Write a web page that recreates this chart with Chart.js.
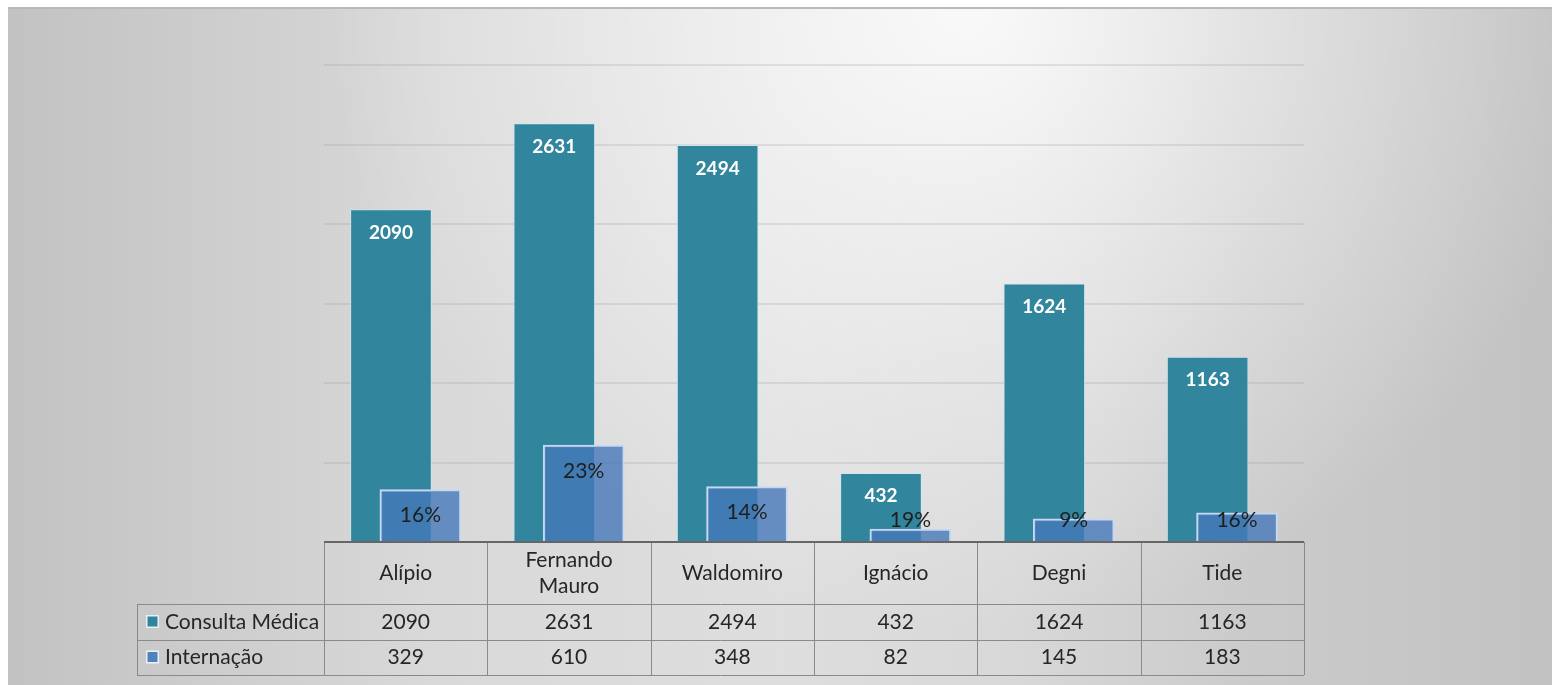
<!DOCTYPE html>
<html>
<head>
<meta charset="utf-8">
<script src="https://cdn.jsdelivr.net/npm/chart.js@4.4.1/dist/chart.umd.min.js"></script>
<style>
html, body { margin: 0; padding: 0; background: #ffffff; }
#frame {
	position: absolute; left: 8px; top: 7px; width: 1544px; height: 678px;
	border-top: 2px solid #b9b9b9;
	background:
		radial-gradient(ellipse 640px 620px at 960px 0px, rgba(255,255,255,0.85) 0%, rgba(255,255,255,0.45) 45%, rgba(255,255,255,0) 100%),
		linear-gradient(to right, #c2c2c2 0%, #cccccc 12%, #d9d9d9 28%, #dedede 50%, #d8d8d8 65%, #cbcbcb 80%, #c2c2c2 100%);
}
#chart { position: absolute; left: 0; top: 0; }
</style>
</head>
<body>
<div id="frame"></div>
<canvas id="chart" width="1552" height="685"></canvas>
<script>
// values
const categories = ['Alípio', ['Fernando', 'Mauro'], 'Waldomiro', 'Ignácio', 'Degni', 'Tide'];
const consultaMedica = [2090, 2631, 2494, 432, 1624, 1163];
const internacao = [329, 610, 348, 82, 145, 183];
const seriesNames = ['Consulta Médica', 'Internação'];
const yMax = 3000;
const yStep = 500;

const tealColor = '#31859c';
const blueColor = 'rgba(70,120,185,0.8)';
const textFont = 'Lato, "Open Sans", sans-serif';
// the two series overlap, each pushed this far (in categories) off the centre
const barShift = 0.09;
const n = categories.length;

// bar value labels: numbers on the teal bars, share of consultas on the blue ones
const barLabels = {
	id: 'barLabels',
	afterDatasetsDraw(chart) {
		let ctx = chart.ctx;
		let base = chart.scales.y.getPixelForValue(0);
		ctx.save();
		ctx.textAlign = 'center';
		ctx.textBaseline = 'middle';

		let metaC = chart.getDatasetMeta(0);
		ctx.font = 'bold 19px ' + textFont;
		ctx.fillStyle = '#ffffff';
		metaC.data.forEach((bar, i) => {
			ctx.fillText(String(consultaMedica[i]), bar.x, bar.y + 23);
		});

		let metaI = chart.getDatasetMeta(1);
		ctx.font = '21px ' + textFont;
		ctx.fillStyle = '#1e1e1e';
		metaI.data.forEach((bar, i) => {
			let pct = Math.round(internacao[i] / consultaMedica[i] * 100) + '%';
			ctx.fillText(pct, bar.x, Math.min(bar.y + 26, base - 22));
		});
		ctx.restore();
	}
};

// excel style data table under the plot area
const dataTable = {
	id: 'dataTable',
	afterDraw(chart) {
		let ctx = chart.ctx;
		let area = chart.chartArea;
		let cs = chart.scales.cat;
		let half = (cs.getPixelForValue(1) - cs.getPixelForValue(0)) / 2;
		let top = area.bottom;
		let rows = [top, top + 62, top + 98, top + 133];
		let legendLeft = 137;

		ctx.save();
		ctx.strokeStyle = '#8a8a8a';
		ctx.lineWidth = 1;
		ctx.beginPath();
		for (let r = 1; r < rows.length; r++) {
			ctx.moveTo(legendLeft, rows[r] + 0.5);
			ctx.lineTo(area.right, rows[r] + 0.5);
		}
		for (let i = 0; i <= n; i++) {
			let px = Math.round(cs.getPixelForValue(0) - half + i * 2 * half) + 0.5;
			ctx.moveTo(px, top);
			ctx.lineTo(px, rows[3]);
		}
		ctx.moveTo(legendLeft + 0.5, rows[1]);
		ctx.lineTo(legendLeft + 0.5, rows[3]);
		ctx.stroke();

		// axis line on top of the table
		ctx.strokeStyle = '#666666';
		ctx.lineWidth = 2;
		ctx.beginPath();
		ctx.moveTo(area.left, top);
		ctx.lineTo(area.right, top);
		ctx.stroke();

		ctx.fillStyle = '#262626';
		ctx.textAlign = 'center';
		ctx.textBaseline = 'middle';
		ctx.font = '21px ' + textFont;
		categories.forEach((c, i) => {
			let cx = cs.getPixelForValue(i);
			let lines = Array.isArray(c) ? c : [c];
			let mid = (rows[0] + rows[1]) / 2;
			lines.forEach((ln, k) => {
				ctx.fillText(ln, cx, mid + (k - (lines.length - 1) / 2) * 26);
			});
			ctx.fillText(String(consultaMedica[i]), cx, (rows[1] + rows[2]) / 2);
			ctx.fillText(String(internacao[i]), cx, (rows[2] + rows[3]) / 2);
		});

		// legend keys in the first column
		let keyColors = [tealColor, '#4f81bd'];
		ctx.textAlign = 'left';
		seriesNames.forEach((name, r) => {
			let cy = (rows[r + 1] + rows[r + 2]) / 2;
			ctx.fillStyle = '#e8f2f6';
			ctx.fillRect(146, cy - 7, 13, 13);
			ctx.fillStyle = keyColors[r];
			ctx.fillRect(147.5, cy - 5.5, 10, 10);
			ctx.fillStyle = '#262626';
			ctx.fillText(name, 165, cy);
		});
		ctx.restore();
	}
};

function shiftedAxis(shift) {
	return {
		type: 'linear',
		display: false,
		offset: false,
		min: -0.5 - shift,
		max: n - 0.5 - shift,
		ticks: { stepSize: 1, includeBounds: false }
	};
}

new Chart(document.getElementById('chart'), {
	type: 'bar',
	data: {
		labels: categories,
		datasets: [
			{
				label: seriesNames[0],
				data: consultaMedica.map((v, i) => ({ x: i, y: v })),
				xAxisID: 'x',
				order: 1,
				grouped: false,
				barThickness: 81,
				backgroundColor: tealColor,
				borderColor: 'rgba(205,232,240,0.8)',
				borderWidth: 1
			},
			{
				label: seriesNames[1],
				data: internacao.map((v, i) => ({ x: i, y: v })),
				xAxisID: 'x2',
				order: 0,
				grouped: false,
				barThickness: 81,
				backgroundColor: blueColor,
				borderColor: '#c6d9f1',
				borderWidth: 2
			}
		]
	},
	options: {
		responsive: false,
		animation: false,
		layout: { padding: { left: 324, right: 248, top: 65, bottom: 143 } },
		plugins: {
			legend: { display: false },
			tooltip: { enabled: false }
		},
		scales: {
			x: shiftedAxis(-barShift),
			x2: shiftedAxis(barShift),
			cat: { type: 'category', axis: 'x', position: 'bottom', display: false, offset: true, labels: categories },
			y: {
				min: 0,
				max: yMax,
				ticks: { display: false, stepSize: yStep },
				border: { display: false },
				grid: { color: 'rgba(150,150,150,0.22)', lineWidth: 2, drawTicks: false }
			}
		}
	},
	plugins: [barLabels, dataTable]
});
</script>
</body>
</html>
